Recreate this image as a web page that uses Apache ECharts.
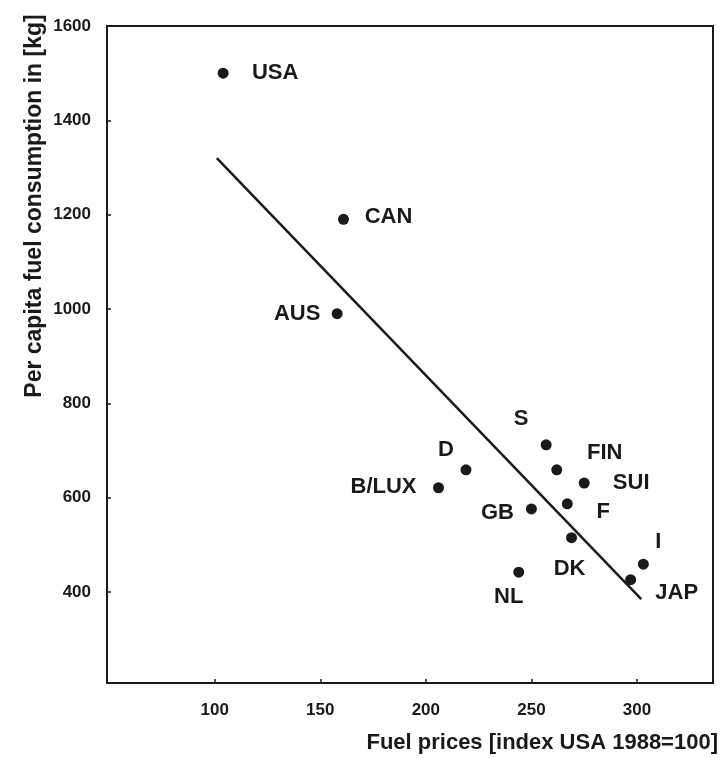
<!DOCTYPE html>
<html>
<head>
<meta charset="utf-8">
<script src="https://cdn.jsdelivr.net/npm/echarts@6/dist/echarts.min.js"></script>
<style>
  html, body { margin: 0; padding: 0; background: #fff; }
  #chart { width: 722px; height: 758px; }
</style>
</head>
<body>
<div id="chart"></div>
<script>
// values
var countries = ['USA', 'CAN', 'AUS', 'S', 'FIN', 'SUI', 'F', 'GB', 'D', 'B/LUX', 'DK', 'NL', 'I', 'JAP'];
var fuelPrice = [104, 161, 158, 257, 262, 275, 267, 250, 219, 206, 269, 244, 303, 297];
var consumption = [1500, 1190, 990, 712, 659, 631, 587, 576, 659, 621, 515, 442, 459, 426];
var trendX = [101, 302];
var trendY = [1320, 385];
var xTicks = [100, 150, 200, 250, 300];
var yTicks = [400, 600, 800, 1000, 1200, 1400, 1600];

// where each country label sits relative to its dot (px)
var labelOffset = {
    'USA': [52, 0], 'CAN': [45, -2], 'AUS': [-40, 0], 'S': [-25, -26],
    'FIN': [48, -17], 'SUI': [47, 0], 'F': [36, 8], 'GB': [-34, 4],
    'D': [-20, -20], 'B/LUX': [-55, -1], 'DK': [-2, 31], 'NL': [-10, 25],
    'I': [15, -22], 'JAP': [46, 13]
};

var ink = '#1a1a1a';
var font = '"Liberation Sans", Arial, sans-serif';

var points = countries.map(function (c, i) {
    return {
        name: c,
        value: [fuelPrice[i], consumption[i]],
        label: { offset: labelOffset[c] }
    };
});
var trend = trendX.map(function (x, i) { return [x, trendY[i]]; });

var chart = echarts.init(document.getElementById('chart'));
var option = {
    backgroundColor: '#fff',
    animation: false,
    grid: {
        left: 107, right: 9, top: 26, bottom: 75,
        show: true, borderColor: ink, borderWidth: 2, backgroundColor: 'transparent'
    },
    xAxis: {
        type: 'value',
        min: 49, max: 336,
        name: 'Fuel prices [index USA 1988=100]',
        nameLocation: 'end',
        nameGap: 5,
        nameTextStyle: {
            color: ink, fontFamily: font, fontWeight: 'bold', fontSize: 22,
            align: 'right', verticalAlign: 'top', padding: [49, 0, 0, 0]
        },
        axisLine: { show: true, lineStyle: { color: ink, width: 2 } },
        axisTick: { show: true, inside: true, length: 4, customValues: xTicks, lineStyle: { color: ink, width: 1.5 } },
        axisLabel: { customValues: xTicks, margin: 19, color: ink, fontFamily: font, fontWeight: 'bold', fontSize: 17 },
        splitLine: { show: false }
    },
    yAxis: {
        type: 'value',
        min: 207, max: 1600,
        axisLine: { show: true, lineStyle: { color: ink, width: 2 } },
        axisTick: { show: true, inside: true, length: 4, customValues: yTicks, lineStyle: { color: ink, width: 1.5 } },
        axisLabel: {
            customValues: yTicks, margin: 16, color: ink, fontFamily: font, fontWeight: 'bold', fontSize: 17,
            formatter: function (v) { return String(v); }
        },
        splitLine: { show: false }
    },
    graphic: [{
        type: 'text',
        x: 35, y: 206,
        rotation: Math.PI / 2,
        style: {
            text: 'Per capita fuel consumption in [kg]',
            fill: ink, font: 'bold 23px ' + font,
            align: 'center', verticalAlign: 'middle'
        }
    }],
    series: [{
        type: 'line',
        data: trend,
        symbol: 'none',
        lineStyle: { color: ink, width: 2.5 },
        silent: true
    }, {
        type: 'scatter',
        data: points,
        symbolSize: 11,
        itemStyle: { color: ink, opacity: 1 },
        label: {
            show: true,
            position: 'inside',
            formatter: '{b}',
            color: ink,
            fontFamily: font,
            fontWeight: 'bold',
            fontSize: 22
        }
    }]
};
chart.setOption(option);
</script>
</body>
</html>
